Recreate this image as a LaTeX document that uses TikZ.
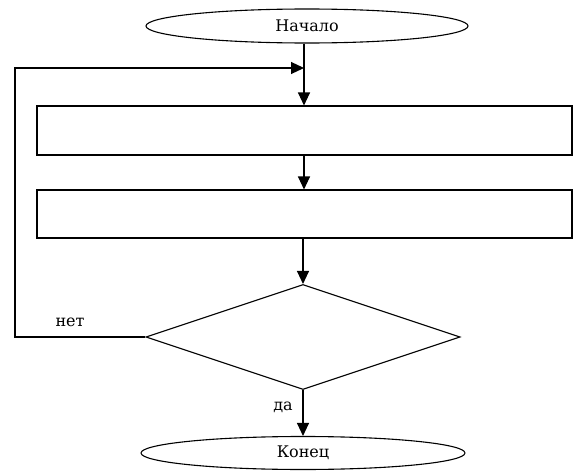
\documentclass[tikz,border=0pt]{standalone}
\usepackage{fontspec}
\setmainfont{DejaVu Serif}
\usetikzlibrary{shapes.geometric,arrows.meta}
\begin{document}
\begin{tikzpicture}[x=1pt,y=-1pt,
  line width=1.1pt,
  arr/.style={-{Triangle[length=13pt,width=12pt]}},
  term/.style={draw,ellipse,inner sep=0pt,font=\fontsize{16}{18}\selectfont},
  procbox/.style={draw,rectangle,inner sep=0pt,minimum width=535pt},
  decision/.style={draw,diamond,inner sep=0pt,minimum width=314pt,minimum height=105pt},
  lbl/.style={font=\fontsize{16}{18}\selectfont,inner sep=0pt}]
\fill[white] (0,0) rectangle (574,471);
\useasboundingbox (0,0) rectangle (574,471);
\node[term,minimum width=322pt,minimum height=34pt] (start) at (307,26) {Начало};
\node[procbox,minimum height=49pt] (box1) at (304.5,130.5) {};
\node[procbox,minimum height=48pt] (box2) at (304.5,214) {};
\node[decision] (dec) at (303,337) {};
\node[term,minimum width=324pt,minimum height=33pt] (stop) at (303,453) {Конец};
\coordinate (join) at (304,68);
\coordinate (lx) at (15,0);
\draw (start.south -| join) -- (join);
\draw[arr] (join) -- (join |- box1.north);
\draw[arr] (box1.south -| join) -- (box2.north -| join);
\draw[arr] (box2.south -| dec.north) -- (dec.north);
\draw[arr] (dec.south) -- (stop.north -| dec.south);
\draw[arr] (dec.west) -- (dec.west -| lx) |- (join);
\node[lbl] (no) at (70,322) {нет};
\node[lbl] (yes) at (283,407) {да};
\end{tikzpicture}
\end{document}
